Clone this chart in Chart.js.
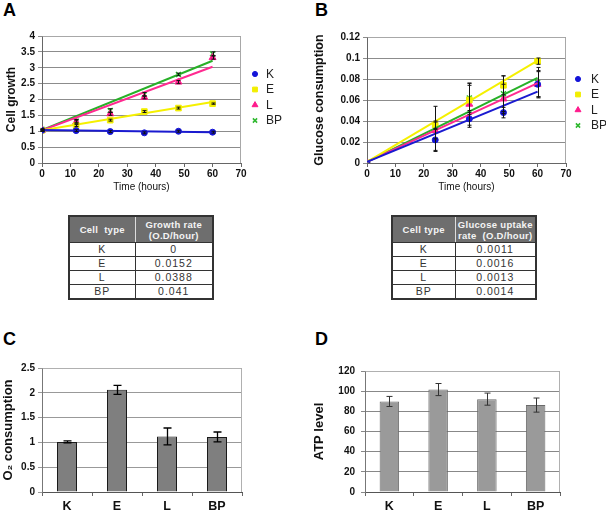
<!DOCTYPE html>
<html>
<head>
<meta charset="utf-8">
<script src="https://cdn.jsdelivr.net/npm/chart.js@4.4.1/dist/chart.umd.min.js"></script>
<style>
  body { margin: 0; background: #fff; font-family: Arial, "Liberation Sans", sans-serif; }
  #page { position: relative; width: 606px; height: 512px; overflow: hidden; }
  canvas { position: absolute; }
  .tag { position: absolute; font: bold 18px Arial, "Liberation Sans", sans-serif; line-height: 20px; color: #000; }
  table { position: absolute; border-collapse: collapse; border: 2px solid #333; table-layout: fixed; }
  th { background: #6e6e6e; color: #f4f4f4; font: bold 9.5px Arial, "Liberation Sans", sans-serif; letter-spacing: 0.3px; line-height: 11px; height: 25px; padding: 0; border: 1px solid #333; white-space: nowrap; }
  th:first-child { border-right: 1px solid #ddd; }
  td { font: 10.5px Arial, "Liberation Sans", sans-serif; letter-spacing: 1px; color: #333; text-align: center; height: 13px; line-height: 13px; padding: 0; border: 1px solid #333; }
</style>
</head>
<body>
<div id="page">
  <div class="tag" style="left:3px;top:0px">A</div>
  <div class="tag" style="left:315px;top:0px">B</div>
  <div class="tag" style="left:3px;top:329px">C</div>
  <div class="tag" style="left:315px;top:329px">D</div>
  <canvas id="cA" width="300" height="200" style="left:0;top:0"></canvas>
  <canvas id="cB" width="306" height="200" style="left:300px;top:0"></canvas>
  <canvas id="cC" width="300" height="192" style="left:0;top:320px"></canvas>
  <canvas id="cD" width="306" height="192" style="left:300px;top:320px"></canvas>
  <table id="tA" style="left:68px;top:215px;width:146px"></table>
  <table id="tB" style="left:391px;top:215px;width:146px"></table>
</div>
<script>
// ---- data ----
const cellTypes = ['K', 'E', 'L', 'BP'];

// A: cell growth
const growthHours = [0, 12, 24, 36, 48, 60];
const growthK = [1.03, 1.02, 0.99, 0.95, 1.0, 0.97];
const growthE = [1.03, 1.18, 1.35, 1.62, 1.73, 1.87];
const growthL = [1.03, 1.29, 1.55, 2.07, 2.55, 3.32];
const growthBP = [1.06, 1.32, 1.65, 2.16, 2.79, 3.44];
const growthErrK = [0.03, 0.03, 0.03, 0.03, 0.03, 0.03];
const growthErrE = [0.02, 0.03, 0.03, 0.03, 0.03, 0.02];
const growthErrL = [0.03, 0.04, 0.05, 0.05, 0.05, 0.05];
const growthErrBP = [0.03, 0.05, 0.06, 0.06, 0.04, 0.06];
const growthFitStart = [1.04, 1.03, 1.03, 1.04];
const growthFitEnd = [0.97, 1.92, 3.03, 3.22];
const growthRates = ['0', '0.0152', '0.0388', '0.041'];

// B: glucose consumption
const glucoseHours = [0, 24, 36, 48, 60];
const glucoseK = [0, 0.022, 0.042, 0.048, 0.075];
const glucoseE = [0, 0.036, 0.060, 0.074, 0.097];
const glucoseL = [0, 0.031, 0.056, 0.061, 0.075];
const glucoseBP = [0, 0.033, 0.062, 0.066, 0.077];
const glucoseErrK = [0, 0.011, 0.008, 0.005, 0.012];
const glucoseErrE = [0, 0.004, 0.014, 0.009, 0.003];
const glucoseErrL = [0, 0.008, 0.02, 0.014, 0.013];
const glucoseErrBP = [0, 0.021, 0.014, 0.017, 0.014];
const glucoseFitStart = [0.001, 0.001, 0.001, 0.001];
const glucoseFitEnd = [0.068, 0.0975, 0.076, 0.081];
const glucoseRates = ['0.0011', '0.0016', '0.0013', '0.0014'];

// C: O2 consumption
const oxygen = [1.01, 2.06, 1.12, 1.11];
const oxygenErr = [0.02, 0.09, 0.17, 0.1];

// D: ATP level
const atp = [89.8, 101.6, 92.1, 86.2];
const atpErr = [5, 6, 6, 7];

// ---- tables ----
function fillTable(id, head1, head2, values) {
  const t = document.getElementById(id);
  let html = '<colgroup><col style="width:' + (id === 'tA' ? 66 : 63) + 'px"><col></colgroup>';
  html += '<tr><th>' + head1 + '</th><th>' + head2 + '</th></tr>';
  cellTypes.forEach((c, i) => { html += '<tr><td>' + c + '</td><td>' + values[i] + '</td></tr>'; });
  t.innerHTML = html;
}
fillTable('tA', 'Cell&nbsp; type', 'Growth rate<br>(O.D/hour)', growthRates);
fillTable('tB', 'Cell type', 'Glucose uptake<br>rate&nbsp; (O.D/hour)', glucoseRates);

// ---- plugins ----
const errorBars = {
  id: 'errorBars',
  afterDatasetsDraw(chart, args, opts) {
    const ctx = chart.ctx;
    const ys = chart.scales.y;
    chart.data.datasets.forEach((ds, i) => {
      if (!ds.errors) return;
      const meta = chart.getDatasetMeta(i);
      ctx.save();
      ctx.strokeStyle = opts.color || '#000';
      ctx.lineWidth = opts.width || 1;
      meta.data.forEach((el, j) => {
        const e = ds.errors[j];
        if (!e) return;
        const v = ds.data[j];
        const val = typeof v === 'object' ? v.y : v;
        const top = ys.getPixelForValue(val + e);
        const bot = ys.getPixelForValue(val - e);
        const x = Math.round(el.x) + 0.5;
        const cap = opts.cap || 2;
        ctx.beginPath();
        ctx.moveTo(x, top); ctx.lineTo(x, bot);
        ctx.moveTo(x - cap, top); ctx.lineTo(x + cap, top);
        ctx.moveTo(x - cap, bot); ctx.lineTo(x + cap, bot);
        ctx.stroke();
      });
      ctx.restore();
    });
  }
};

const frame = {
  id: 'frame',
  beforeDatasetsDraw(chart, args, opts) {
    const a = chart.chartArea;
    const ctx = chart.ctx;
    ctx.save();
    ctx.strokeStyle = opts.color || '#aaa';
    ctx.lineWidth = 1;
    ctx.beginPath();
    ctx.moveTo(Math.round(a.left) + 0.5, Math.round(a.top) + 0.5);
    ctx.lineTo(Math.round(a.right) - 0.5, Math.round(a.top) + 0.5);
    ctx.lineTo(Math.round(a.right) - 0.5, Math.round(a.bottom));
    ctx.stroke();
    ctx.restore();
  }
};

const sideLegend = {
  id: 'sideLegend',
  afterDraw(chart, args, opts) {
    if (!opts.y) return;
    const ctx = chart.ctx;
    const a = chart.chartArea;
    ctx.save();
    ctx.font = '12px Arial, "Liberation Sans", sans-serif';
    ctx.textBaseline = 'middle';
    ctx.fillStyle = '#222';
    cellTypes.forEach((name, i) => {
      const ds = chart.data.datasets[i];
      const y = opts.y + i * opts.step;
      ctx.fillStyle = ds.backgroundColor;
      ctx.strokeStyle = ds.borderColor;
      ctx.lineWidth = ds.pointBorderWidth || 1;
      Chart.helpers.drawPoint(ctx, { pointStyle: ds.pointStyle, radius: ds.pointRadius * 0.85, borderWidth: ds.pointBorderWidth || 1, rotation: 0 }, a.right + opts.dx, y);
      ctx.fillStyle = '#222';
      ctx.fillText(name, a.right + opts.tx, y + 0.5);
    });
    ctx.restore();
  }
};

// ---- helpers ----
const FAM = 'Arial, "Liberation Sans", sans-serif';
const tickFont = { family: FAM, size: 10, weight: 'bold' };
const seriesColors = ['#1414d8', '#f2ee00', '#ff1a8c', '#2eb82e'];
const lineColors = ['#1a1ad0', '#f5f000', '#ff2a90', '#27b027'];
const pointStyles = ['circle', 'rect', 'triangle', 'crossRot'];
const pointSizes = [3, 4, 4, 3.5];
const fmt = v => String(+v.toFixed(4));

function pts(xs, ys) { return xs.map((x, i) => ({ x: x, y: ys[i] })); }

function scatterSets(xs, series, errs, starts, ends) {
  const sets = [];
  series.forEach((s, i) => {
    sets.push({
      label: cellTypes[i], data: pts(xs, s), errors: errs[i], showLine: false,
      pointStyle: pointStyles[i], pointRadius: pointSizes[i], pointBorderWidth: i === 3 ? 1.5 : 1,
      backgroundColor: seriesColors[i], borderColor: seriesColors[i], order: 2
    });
  });
  series.forEach((s, i) => {
    sets.push({
      label: cellTypes[i] + ' fit', data: [{ x: 0, y: starts[i] }, { x: 60, y: ends[i] }],
      borderColor: lineColors[i], borderWidth: 2, pointRadius: 0, fill: false, order: 1
    });
  });
  return sets;
}

function lineOptions(cfg) {
  return {
    responsive: false, animation: false, events: [],
    layout: { padding: cfg.padding },
    plugins: {
      legend: { display: false }, tooltip: { enabled: false },
      frame: { color: '#a8a8a8' },
      errorBars: { color: '#111', width: 1, cap: 2 },
      sideLegend: cfg.legend
    },
    scales: {
      x: {
        type: 'linear', min: 0, max: 70,
        afterFit: s => { s.height = 37; },
        ticks: { stepSize: 10, font: tickFont, color: '#111', padding: 1, maxRotation: 0 },
        grid: { drawOnChartArea: false, tickLength: 4, color: '#666' },
        border: { color: '#666' },
        title: { display: true, text: 'Time (hours)', font: { family: FAM, size: 10 }, color: '#111', padding: { top: 0, bottom: 7 } }
      },
      y: {
        min: 0, max: cfg.ymax,
        afterFit: s => { s.width = cfg.yWidth; },
        ticks: { stepSize: cfg.ystep, font: tickFont, color: '#111', padding: 3, callback: fmt },
        grid: { color: '#8c8c8c', tickLength: 4 },
        border: { color: '#666' },
        title: { display: true, text: cfg.ytitle, font: { family: FAM, size: cfg.ytitleSize, weight: 'bold' }, color: '#111', padding: { top: 4, bottom: 0 } }
      }
    }
  };
}

// ---- A ----
new Chart(document.getElementById('cA'), {
  type: 'line',
  data: { datasets: scatterSets(growthHours, [growthK, growthE, growthL, growthBP],
    [growthErrK, growthErrE, growthErrL, growthErrBP], growthFitStart, growthFitEnd) },
  options: lineOptions({
    padding: { top: 36, right: 59, left: 0, bottom: 0 }, ymax: 4, ystep: 0.5, yWidth: 42,
    ytitle: 'Cell growth', ytitleSize: 12, legend: { dx: 14, tx: 25, y: 74, step: 15.5 }
  }),
  plugins: [frame, errorBars, sideLegend]
});

// ---- B ----
new Chart(document.getElementById('cB'), {
  type: 'line',
  data: { datasets: scatterSets(glucoseHours, [glucoseK, glucoseE, glucoseL, glucoseBP],
    [glucoseErrK, glucoseErrE, glucoseErrL, glucoseErrBP], glucoseFitStart, glucoseFitEnd) },
  options: lineOptions({
    padding: { top: 37, right: 40, left: 8, bottom: 0 }, ymax: 0.12, ystep: 0.02, yWidth: 59,
    ytitle: 'Glucose consumption', ytitleSize: 12.5, legend: { dx: 12, tx: 25, y: 79, step: 15.5 }
  }),
  plugins: [frame, errorBars, sideLegend]
});

// ---- bars ----
function barChart(id, values, errs, cfg) {
  new Chart(document.getElementById(id), {
    type: 'bar',
    data: {
      labels: cellTypes,
      datasets: [{ data: values, errors: errs, backgroundColor: cfg.fill, borderColor: cfg.edge, borderWidth: 1,
        barPercentage: 0.8, categoryPercentage: 0.5 }]
    },
    options: {
      responsive: false, animation: false, events: [],
      layout: { padding: cfg.padding },
      plugins: {
        legend: { display: false }, tooltip: { enabled: false },
        frame: { color: '#b0b0b0' },
        errorBars: { color: cfg.errColor, width: cfg.errWidth, cap: cfg.cap },
        sideLegend: {}
      },
      scales: {
        x: {
          afterFit: s => { s.height = 20; },
          ticks: { font: { family: FAM, size: 12.5, weight: 'bold' }, color: '#111', padding: 3 },
          grid: { drawOnChartArea: false, tickLength: 4, color: '#666' },
          border: { color: '#555' }
        },
        y: {
          min: 0, max: cfg.ymax,
          afterFit: s => { s.width = cfg.yWidth; },
          ticks: { stepSize: cfg.ystep, font: tickFont, color: '#111', padding: cfg.tickPad, callback: fmt },
          grid: { color: cfg.gridColor, tickLength: 4 },
          border: { color: '#777' },
          title: { display: true, text: cfg.ytitle, font: { family: FAM, size: 13, weight: 'bold' }, color: '#111', padding: { top: cfg.titlePad, bottom: 0 } }
        }
      }
    },
    plugins: [frame, errorBars]
  });
}

barChart('cC', oxygen, oxygenErr, {
  padding: { top: 48, right: 58, left: 0, bottom: 0 }, ymax: 2.5, ystep: 0.5, yWidth: 42,
  fill: '#7f7f7f', edge: '#1a1a1a', errColor: '#000', errWidth: 1.3, cap: 4,
  gridColor: '#999', tickPad: 3, ytitle: 'O\u2082 consumption', titlePad: 1
});

barChart('cD', atp, atpErr, {
  padding: { top: 51, right: 46, left: 8, bottom: 0 }, ymax: 120, ystep: 20, yWidth: 57,
  fill: '#9a9a9a', edge: '#6a6a6a', errColor: '#333', errWidth: 1, cap: 3,
  gridColor: '#888', tickPad: 6, ytitle: 'ATP level', titlePad: 4
});
</script>
</body>
</html>
